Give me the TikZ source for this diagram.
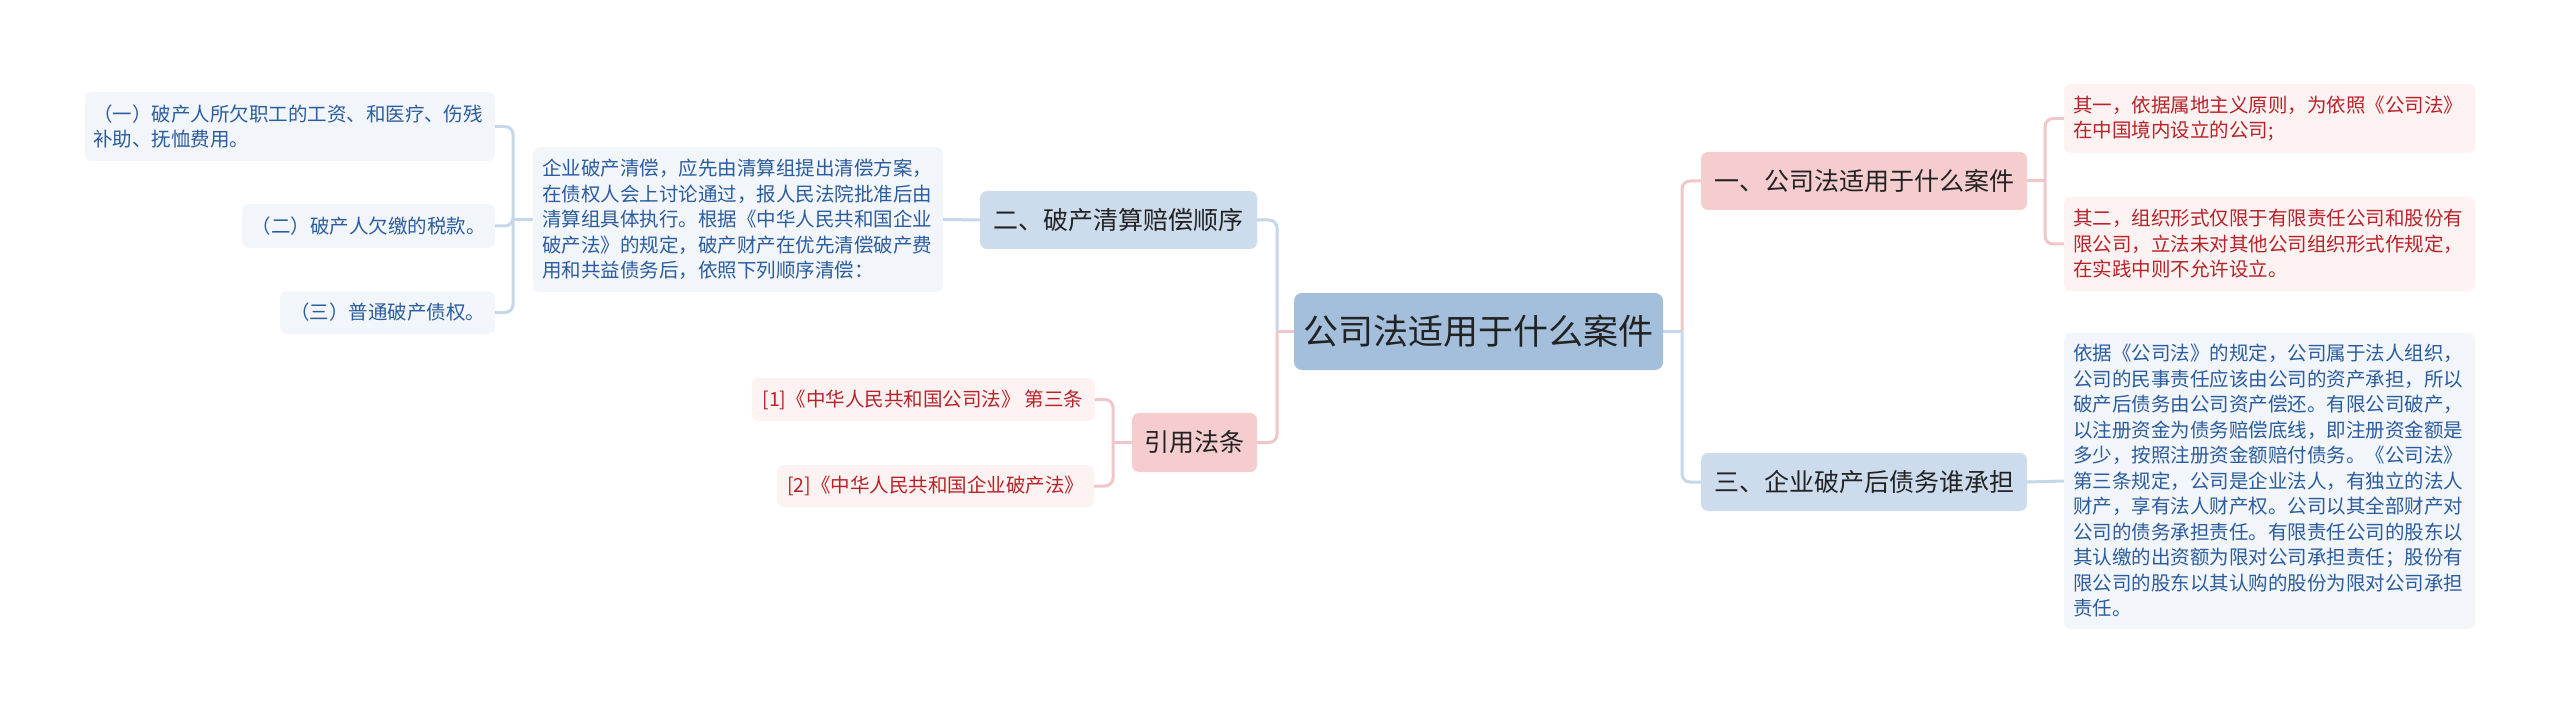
\documentclass[tikz,border=0pt]{standalone}
\usepackage{fontspec}
\setmainfont{Noto Sans CJK SC}
\definecolor{cfill}{HTML}{A3BFDB}
\definecolor{bfill}{HTML}{CCDCEC}
\definecolor{pfill}{HTML}{F5CDCF}
\definecolor{blf}{HTML}{F2F6FB}
\definecolor{plf}{HTML}{FDF2F2}
\definecolor{btext}{HTML}{2B5C9E}
\definecolor{rtext}{HTML}{B82229}
\definecolor{tdark}{HTML}{222222}
\definecolor{bline}{HTML}{C6D7E9}
\definecolor{pline}{HTML}{F0C6C8}
\tikzset{
  cbox/.style={rounded corners=8pt, inner sep=0pt, fill=cfill, text=tdark, font=\fontsize{35}{40}\selectfont},
  lvb/.style={rounded corners=7pt, inner sep=0pt, fill=bfill, text=tdark, font=\fontsize{25}{30}\selectfont},
  lvp/.style={rounded corners=7pt, inner sep=0pt, fill=pfill, text=tdark, font=\fontsize{25}{30}\selectfont},
  leafb/.style={rounded corners=7pt, inner sep=0pt, fill=blf, text=btext, font=\fontsize{19.5}{25.5}\selectfont, align=left},
  leafp/.style={rounded corners=7pt, inner sep=0pt, fill=plf, text=rtext, font=\fontsize{19.5}{25.5}\selectfont, align=left},
  lb/.style={draw=bline, line width=3pt, rounded corners=8pt},
  lp/.style={draw=pline, line width=3pt, rounded corners=8pt}
}
\begin{document}
\begin{tikzpicture}[x=1pt,y=-1pt]
\useasboundingbox[fill=white] (0,0) rectangle (2560,714);
% central
\node[cbox, minimum width=369pt, minimum height=77pt] (c) at (1478.5,331.5) {公司法适用于什么案件};
% level 1
\node[lvb, minimum width=277pt, minimum height=58pt] (n2) at (1118.5,220) {二、破产清算赔偿顺序};
\node[lvp, minimum width=125pt, minimum height=59pt] (ref) at (1194.5,442.5) {引用法条};
\node[lvp, minimum width=326pt, minimum height=58pt] (n1) at (1864,181) {一、公司法适用于什么案件};
\node[lvb, minimum width=326pt, minimum height=58pt] (n3) at (1864,482) {三、企业破产后债务谁承担};
% left leaves
\node[leafb, minimum width=410pt, minimum height=145pt, text width=392pt] (t2) at (738,219.5) {企业破产清偿，应先由清算组提出清偿方案，\\在债权人会上讨论通过，报人民法院批准后由\\清算组具体执行。根据《中华人民共和国企业\\破产法》的规定，破产财产在优先清偿破产费\\用和共益债务后，依照下列顺序清偿：};
\node[leafb, minimum width=410pt, minimum height=69pt, text width=394pt] (a1) at (290,126.5) {（一）破产人所欠职工的工资、和医疗、伤残\\补助、抚恤费用。};
\node[leafb, minimum width=253pt, minimum height=44pt] (a2) at (368.5,226) {（二）破产人欠缴的税款。};
\node[leafb, minimum width=215pt, minimum height=43pt] (a3) at (387.5,312.5) {（三）普通破产债权。};
\node[leafp, minimum width=343pt, minimum height=43pt] (r1) at (923,399.5) {[1]《中华人民共和国公司法》 第三条};
\node[leafp, minimum width=317pt, minimum height=42pt] (r2) at (935.5,486) {[2]《中华人民共和国企业破产法》};
% right leaves
\node[leafp, minimum width=411pt, minimum height=69pt, text width=393pt] (b1) at (2269.5,118.5) {其一，依据属地主义原则，为依照《公司法》\\在中国境内设立的公司;};
\node[leafp, minimum width=411pt, minimum height=94pt, text width=393pt] (b2) at (2269.5,244) {其二，组织形式仅限于有限责任公司和股份有\\限公司，立法未对其他公司组织形式作规定，\\在实践中则不允许设立。};
\node[leafb, minimum width=411pt, minimum height=296pt, text width=393pt] (b3) at (2269.5,481) {依据《公司法》的规定，公司属于法人组织，\\公司的民事责任应该由公司的资产承担，所以\\破产后债务由公司资产偿还。有限公司破产，\\以注册资金为债务赔偿底线，即注册资金额是\\多少，按照注册资金额赔付债务。《公司法》\\第三条规定，公司是企业法人，有独立的法人\\财产，享有法人财产权。公司以其全部财产对\\公司的债务承担责任。有限责任公司的股东以\\其认缴的出资额为限对公司承担责任；股份有\\限公司的股东以其认购的股份为限对公司承担\\责任。};
% junctions
\coordinate (jc) at (1277,331.5);
\coordinate (jr) at (1682,331.5);
\coordinate (j1) at (2045,181);
\coordinate (jt) at (513,219.5);
\coordinate (jf) at (1113,442.5);
% connectors
\draw[lp] (c.west) -- (jc);
\draw[lb] (jc) |- (n2.east);
\draw[lp] (jc) |- (ref.east);
\draw[lb] (c.east) -- (jr);
\draw[lp] (jr) |- (n1.west);
\draw[lb] (jr) |- (n3.west);
\draw[lp] (n1.east) -- (j1);
\draw[lp] (j1) |- (b1.west);
\draw[lp] (j1) |- (b2.west);
\draw[lb] (n3.east) -- (b3.west);
\draw[lb] (n2.west) -- (t2.east);
\draw[lb] (t2.west) -- (jt);
\draw[lb] (jt) |- (a1.east);
\draw[lb] (jt) |- (a2.east);
\draw[lb] (jt) |- (a3.east);
\draw[lp] (ref.west) -- (jf);
\draw[lp] (jf) |- (r1.east);
\draw[lp] (jf) |- (r2.east);
\end{tikzpicture}
\end{document}
